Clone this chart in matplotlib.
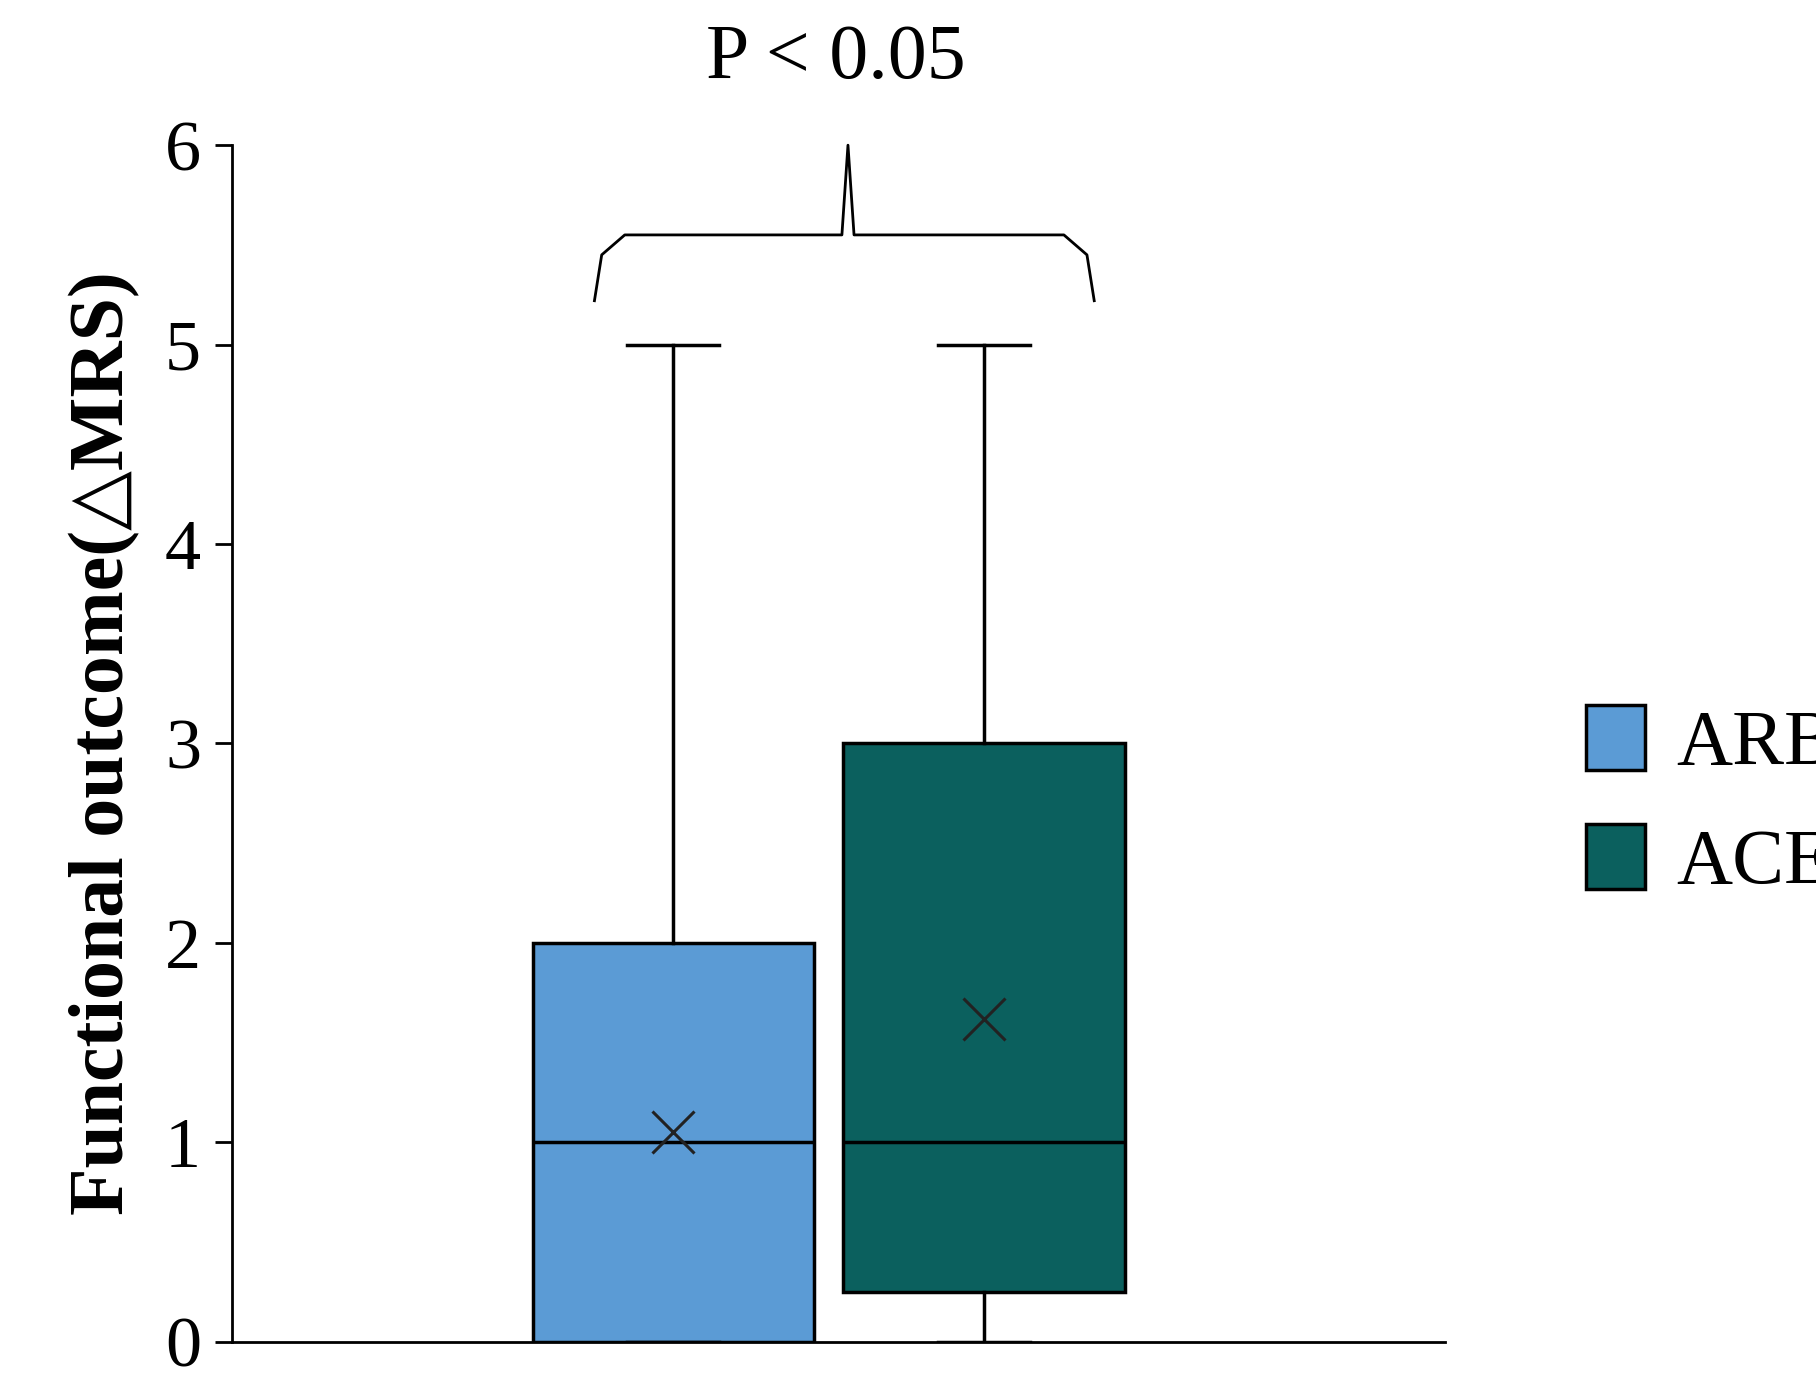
import matplotlib.pyplot as plt
from matplotlib.patches import Patch

# box statistics
groups = ["ARB", "ACEI"]
colors = ["#5b9bd5", "#0b605e"]
whislo = [0, 0]
q1 = [0, 0.25]
med = [1, 1]
q3 = [2, 3]
whishi = [5, 5]
means = [1.05, 1.62]
positions = [0.364, 0.620]

plt.rcParams['font.family'] = ['Liberation Serif', 'DejaVu Serif']

fig = plt.figure(figsize=(18.16, 13.96), dpi=100)
ax = fig.add_axes([0.1276, 0.039, 0.668, 0.857])

stats = []
for i, g in enumerate(groups):
    stats.append(dict(label=g, whislo=whislo[i], q1=q1[i], med=med[i], q3=q3[i],
                      whishi=whishi[i], mean=means[i], fliers=[]))

bp = ax.bxp(stats, positions=positions, widths=0.232, patch_artist=True, showmeans=True,
            meanprops=dict(marker='x', markersize=30, markeredgecolor='#222222', markeredgewidth=2.2),
            medianprops=dict(color='black', linewidth=2.5),
            whiskerprops=dict(color='black', linewidth=2.5),
            capprops=dict(color='black', linewidth=2.5),
            boxprops=dict(linewidth=2.5), capwidths=0.076, zorder=2)
for p, c in zip(bp['boxes'], colors):
    p.set_facecolor(c)
    p.set_edgecolor('black')

ax.set_xlim(0, 1)
ax.set_ylim(0, 6)
ax.set_xticks([])
ax.set_yticks(range(7))
ax.tick_params(axis='y', labelsize=52, width=2, length=12, pad=10)
for s in ['top', 'right']:
    ax.spines[s].set_visible(False)
for s in ['left', 'bottom']:
    ax.spines[s].set_linewidth(2)
ax.set_ylabel("Functional outcome(△MRS)", fontsize=56, fontweight='bold', labelpad=18,
              family=['Liberation Serif', 'DejaVu Sans'])

# significance bracket
xl, xr, xm = 0.299, 0.711, 0.508
ax.plot([xl, xl + 0.006, xl + 0.025, xm - 0.005, xm, xm + 0.005, xr - 0.025, xr - 0.006, xr],
        [5.22, 5.45, 5.55, 5.55, 6.0, 5.55, 5.55, 5.45, 5.22],
        color='black', lw=2, clip_on=False)
ax.text(xm - 0.01, 6.25, "P < 0.05", fontsize=56, ha='center', va='bottom')

handles = [Patch(facecolor=c, edgecolor='black', linewidth=2.5) for c in colors]
fig.legend(handles, groups, loc='center left', bbox_to_anchor=(0.835, 0.425), frameon=False,
           fontsize=56, handlelength=0.75, handleheight=0.9, labelspacing=0.55, handletextpad=0.4)

fig.savefig("out.png", dpi=100)
